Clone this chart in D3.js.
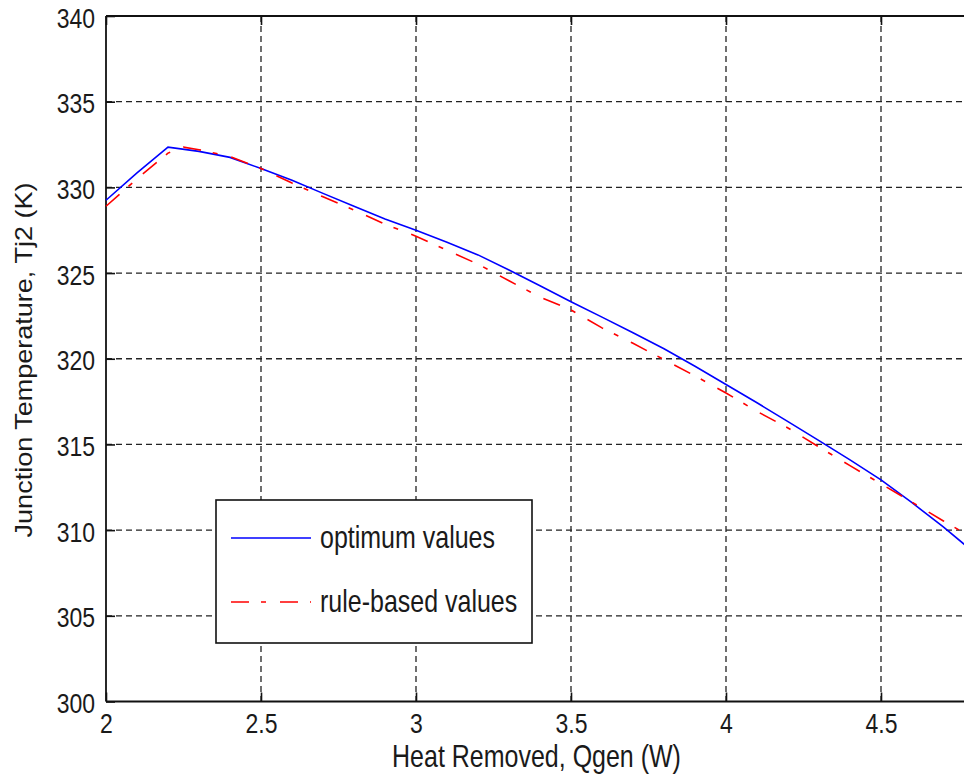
<!DOCTYPE html>
<html><head><meta charset="utf-8">
<script src="https://cdn.jsdelivr.net/npm/d3@7"></script>
<style>
html,body{margin:0;padding:0;background:#fff;}
svg{display:block;}
text{font-family:"Liberation Sans",Arial,sans-serif;fill:#1a1a1a;}
</style></head><body>
<svg id="chart" width="964" height="780"></svg>
<script>
// ---- data ----
const qOpt = [2.0,2.1,2.2,2.3,2.4,2.5,2.6,2.7,2.8,2.9,3.0,3.1,3.2,3.3,3.4,3.5,3.6,3.7,3.8,3.9,4.0,4.1,4.2,4.3,4.4,4.5,4.6,4.7,4.8];
const tjOpt = [329.25,330.85,332.35,332.1,331.75,331.1,330.42,329.65,328.9,328.15,327.5,326.8,326.06,325.18,324.26,323.33,322.43,321.52,320.58,319.56,318.5,317.43,316.33,315.22,314.1,312.93,311.6,310.2,308.7];
const qRule = [2.0,2.1,2.2,2.25,2.3,2.4,2.5,2.6,2.7,2.8,2.9,3.0,3.1,3.2,3.3,3.4,3.5,3.6,3.7,3.8,3.9,4.0,4.1,4.2,4.3,4.4,4.5,4.6,4.7,4.8];
const tjRule = [328.9,330.5,332.0,332.35,332.2,331.8,331.1,330.25,329.45,328.68,327.85,327.15,326.33,325.52,324.55,323.6,322.85,321.8,320.9,319.95,319.0,318.0,316.93,315.96,314.85,313.76,312.7,311.63,310.55,309.5];
const xTicks = [2,2.5,3,3.5,4,4.5];
const yTicks = [300,305,310,315,320,325,330,335,340];
const seriesNames = ["optimum values","rule-based values"];
const xLabel = "Heat Removed, Qgen (W)";
const yLabel = "Junction Temperature, Tj2 (K)";

// ---- layout ----
const W = 964, H = 780;
const pL = 106, pT = 16, pB = 701.5;
const SY = 1.22; // vertical text stretch seen in the reference
const x = d3.scaleLinear().domain([2, 4.8]).range([pL, pL + 310*2.8]);
const y = d3.scaleLinear().domain([300, 340]).range([pB, pT]);
const pR = x(4.8);

const svg = d3.select("#chart");
svg.append("rect").attr("width",W).attr("height",H).attr("fill","#fff");

// grid
const grid = svg.append("g").attr("stroke","#222").attr("stroke-width",1.3).attr("stroke-dasharray","6,4");
grid.selectAll("line.gx").data(xTicks.slice(1)).enter().append("line")
  .attr("x1",d=>x(d)).attr("x2",d=>x(d)).attr("y1",pT).attr("y2",pB);
grid.selectAll("line.gy").data(yTicks.slice(1,-1)).enter().append("line")
  .attr("x1",pL).attr("x2",pR).attr("y1",d=>y(d)).attr("y2",d=>y(d));

// axes (ticks inward)
const xAxis = d3.axisBottom(x).tickValues(xTicks).tickSize(-9).tickFormat(d3.format("~g"));
const yAxis = d3.axisLeft(y).tickValues(yTicks).tickSize(-9).tickFormat(d3.format("d"));
const gx = svg.append("g").attr("transform",`translate(0,${pB})`).call(xAxis);
const gy = svg.append("g").attr("transform",`translate(${pL},0)`).call(yAxis);
const gxTop = svg.append("g").attr("transform",`translate(0,${pT})`).call(d3.axisTop(x).tickValues(xTicks).tickSize(-9).tickFormat(""));
[gx,gy,gxTop].forEach(g=>{
  g.select(".domain").remove();
  g.selectAll(".tick line").attr("stroke","#111").attr("stroke-width",1.6);
  g.selectAll("text").attr("font-size",23).attr("fill","#1a1a1a").attr("font-family","Liberation Sans, Arial, sans-serif");
});
gx.selectAll(".tick text").attr("x",0).attr("y",0).attr("dy",0)
  .attr("transform",`translate(0,${733-pB}) scale(1,${SY})`);
gy.selectAll(".tick text").attr("x",0).attr("y",0).attr("dy",0).attr("text-anchor","end")
  .attr("transform",`translate(${95-pL},11) scale(1,${SY})`);

// frame
const frame = svg.append("g").attr("stroke","#111").attr("stroke-width",1.8).attr("fill","none");
frame.append("line").attr("x1",pL).attr("x2",pR).attr("y1",pT).attr("y2",pT);
frame.append("line").attr("x1",pL).attr("x2",pR).attr("y1",pB).attr("y2",pB);
frame.append("line").attr("x1",pL).attr("x2",pL).attr("y1",pT).attr("y2",pB);
frame.append("line").attr("x1",pR).attr("x2",pR).attr("y1",pT).attr("y2",pB);

// lines
const line = d3.line().x(d=>x(d[0])).y(d=>y(d[1]));
const optData = qOpt.map((q,i)=>[q,tjOpt[i]]);
const ruleData = qRule.map((q,i)=>[q,tjRule[i]]);
svg.append("path").datum(optData).attr("d",line).attr("fill","none").attr("stroke","#0000ff").attr("stroke-width",1.6);
svg.append("path").datum(ruleData).attr("d",line).attr("fill","none").attr("stroke","#ff0000").attr("stroke-width",1.6).attr("stroke-dasharray","18,12,5,14");

// labels
svg.append("text").attr("transform",`translate(536.5,766.5) scale(1,${SY})`).attr("text-anchor","middle").attr("font-size",25).text(xLabel);
svg.append("text").attr("transform",`translate(32,360) scale(1,1.15) rotate(-90)`).attr("text-anchor","middle").attr("font-size",23.5).text(yLabel);

// legend
const lg = svg.append("g");
lg.append("rect").attr("x",216).attr("y",500).attr("width",316).attr("height",143).attr("fill","#fff").attr("stroke","#111").attr("stroke-width",1.6);
const lgItems = [{name:seriesNames[0],color:"#0000ff",dash:null,yy:538},{name:seriesNames[1],color:"#ff0000",dash:"18,12,5,14",yy:602}];
lgItems.forEach(it=>{
  lg.append("line").attr("x1",231).attr("x2",311).attr("y1",it.yy).attr("y2",it.yy).attr("stroke",it.color).attr("stroke-width",1.6).attr("stroke-dasharray",it.dash);
  lg.append("text").attr("transform",`translate(320,${it.yy+10}) scale(1,${SY})`).attr("font-size",25).text(it.name);
});
</script>
</body></html>
